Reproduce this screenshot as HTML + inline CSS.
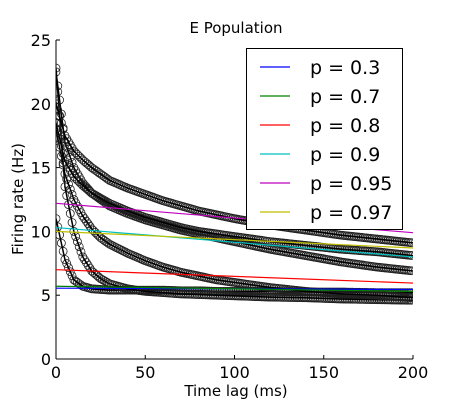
<!DOCTYPE html>
<html><head><meta charset="utf-8"><style>
body{margin:0;background:#fff;width:459px;height:400px;overflow:hidden;font-family:"Liberation Sans","DejaVu Sans",sans-serif}
svg text{font-family:"DejaVu Sans","Liberation Sans",sans-serif}
</style></head><body>
<svg id="chart" width="459" height="400" xmlns="http://www.w3.org/2000/svg">
<defs><clipPath id="clip"><rect x="56" y="36" width="357" height="323"/></clipPath></defs>
<text x="236" y="33" font-size="15" text-anchor="middle">E Population</text>
<text x="236" y="396" font-size="15" text-anchor="middle">Time lag (ms)</text>
<text transform="translate(23,199) rotate(-90)" font-size="15" text-anchor="middle">Firing rate (Hz)</text>
<g id="axes"></g>
<g id="data" clip-path="url(#clip)"></g>
<g id="fits" clip-path="url(#clip)"></g>
<g id="legend"></g>
</svg>
<script>
const times=[0,5,10,15,20,25,30,40,50,60,70,80,90,100,120,140,160,180,200];
const curve1=[11,7.8,6.2,5.7,5.5,5.45,5.4,5.4,5.4,5.4,5.35,5.35,5.3,5.3,5.3,5.25,5.25,5.2,5.2];
const curve2=[22.8,13.5,10,8,6.9,6.3,5.9,5.5,5.3,5.2,5.1,5.05,5.0,4.95,4.85,4.8,4.7,4.65,4.6];
const curve3=[18,14.5,12.5,11.2,10.2,9.5,9,8.3,7.7,7.2,6.8,6.5,6.2,6.0,5.6,5.3,5.1,5.0,4.8];
const curve4=[22.5,17,15,13.8,13,12.5,12,11.4,10.9,10.5,10.1,9.8,9.5,9.2,8.6,8.1,7.6,7.2,6.9];
const curve5=[18.5,15.5,14.3,13.6,13,12.6,12.2,11.6,11.1,10.7,10.3,10,9.8,9.6,9.2,8.9,8.6,8.4,8.1];
const curve6=[20,17.5,16.3,15.6,15,14.5,14,13.4,12.9,12.4,12,11.6,11.3,11,10.5,10.1,9.7,9.4,9.1];
const fitLabels=["p = 0.3","p = 0.7","p = 0.8","p = 0.9","p = 0.95","p = 0.97"];
const fitColors=["#0000ff","#008000","#ff0000","#00bfbf","#bf00bf","#bfbf00"];
const fitStart=[5.55,5.7,7.0,10.3,12.2,10.0];
const fitEnd=[5.45,5.3,5.95,8.0,9.9,8.7];
const xTicks=[0,50,100,150,200];
const yTicks=[0,5,10,15,20,25];

const NS="http://www.w3.org/2000/svg";
const X=v=>56+v*(357/200), Y=v=>359-v*(319/25);
function mk(t,a,p){const e=document.createElementNS(NS,t);for(const k in a)e.setAttribute(k,a[k]);p.appendChild(e);return e;}
const ax=document.getElementById('axes');
let l=mk('line',{x1:56,y1:40,x2:56,y2:359,stroke:'#000'},ax);


l=mk('line',{x1:56,y1:359,x2:413,y2:359,stroke:'#000'},ax);


xTicks.forEach(v=>{
 const t=mk('line',{x1:X(v),y1:359,x2:X(v),y2:355,stroke:'#000'},ax);
 
 
 const tx=mk('text',{x:X(v),y:378,'font-size':16,'text-anchor':'middle'},ax);tx.textContent=v;
 
 
});
yTicks.forEach(v=>{
 const t=mk('line',{x1:56,y1:Y(v),x2:60,y2:Y(v),stroke:'#000'},ax);
 
 
 const tx=mk('text',{x:51,y:Y(v)+6,'font-size':16,'text-anchor':'end'},ax);tx.textContent=v;
 
 
});
const dg=document.getElementById('data');
[curve1,curve2,curve3,curve4,curve5,curve6].forEach((c,ci)=>{
 const g=mk('g',{},dg);
 
 
 for(let i=0;i<times.length-1;i++){
  const t0=times[i],t1=times[i+1];
  for(let t=t0;t<t1;t+=1.0){
   const f=(t-t0)/(t1-t0);const v=c[i]+(c[i+1]-c[i])*f;
   const m=mk('circle',{cx:X(t),cy:Y(v),r:4,fill:'none',stroke:'#222','stroke-width':0.8},g);
   
   
  }
 }
 const p=mk('polyline',{points:times.map((t,i)=>X(t)+','+Y(c[i])).join(' '),fill:'none',stroke:'#000','stroke-width':1.5},g);
 
 
});
const fg=document.getElementById('fits');
fitLabels.forEach((lab,i)=>{
 const f=mk('line',{x1:X(0),y1:Y(fitStart[i]),x2:X(200),y2:Y(fitEnd[i]),stroke:fitColors[i],'stroke-width':1.2},fg);
 
 
});
const lg=document.getElementById('legend');
const box=mk('rect',{x:246.5,y:48.5,width:156,height:181,fill:'#fff',stroke:'#000'},lg);


fitLabels.forEach((lab,i)=>{
 const y=67+i*29;
 const g=mk('g',{},lg);
 
 
 mk('line',{x1:260,y1:y,x2:290,y2:y,stroke:fitColors[i],'stroke-width':1.2},g);
 const t=mk('text',{x:310,y:y+7,'font-size':19},g);t.textContent=lab;
});
</script>
</body></html>
